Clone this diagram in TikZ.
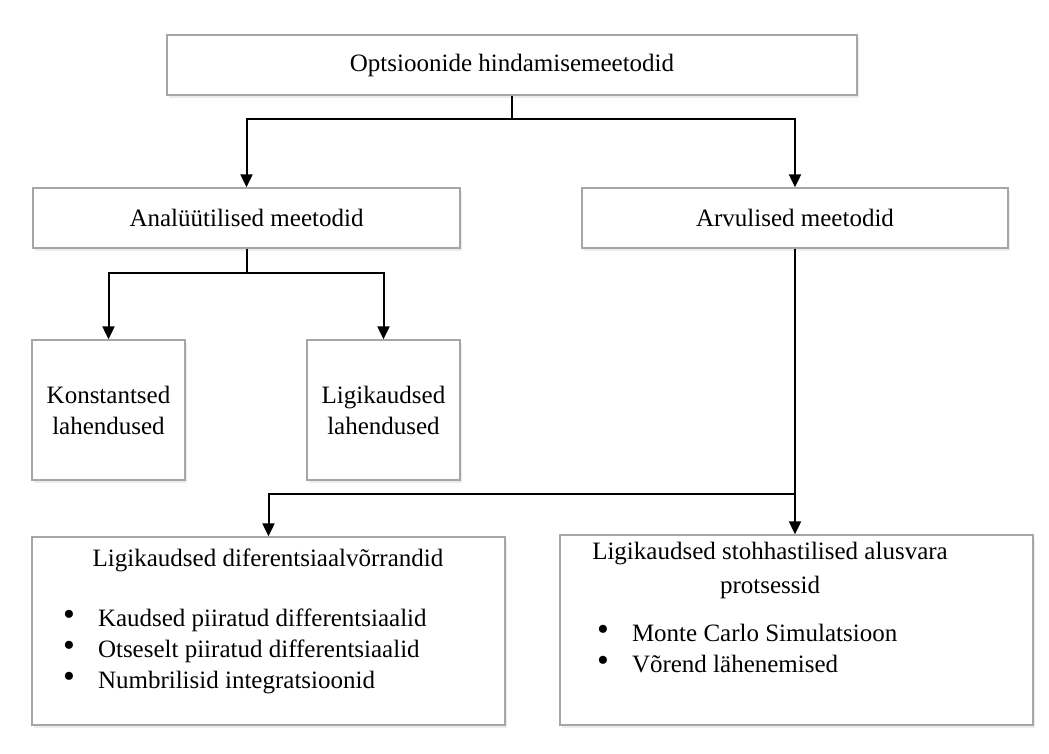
\documentclass[tikz,border=0pt]{standalone}
\usepackage{fontspec}
\setmainfont{Liberation Serif}
\usetikzlibrary{arrows.meta,shadows}
\newcommand\mybul{\smash{\raisebox{0.1ex}{\scalebox{1.35}{\textbullet}}}}
\begin{document}
\begin{tikzpicture}[x=1pt,y=-1pt,
  box/.style={draw=black!35,line width=1.3pt,fill=white,rectangle,inner sep=0pt,
    drop shadow={opacity=0.15,shadow xshift=2pt,shadow yshift=-3pt}},
  txt/.style={font=\fontsize{25}{31}\selectfont,inner sep=0pt,align=center},
  conn/.style={draw=black,line width=2pt},
  arr/.style={conn,-{Triangle[length=13pt,width=12pt]}}]
\useasboundingbox[fill=white] (0,0) rectangle (1049,754);
% boxes
\node[box,minimum width=690,minimum height=60] (top) at (512,65) {};
\node[txt] (topT) at (512,65) {Optsioonide hindamisemeetodid};
\node[box,minimum width=427,minimum height=60] (ana) at (246.5,218) {};
\node[txt] (anaT) at (246.5,218) {Analüütilised meetodid};
\node[box,minimum width=426,minimum height=60] (arv) at (795,218) {};
\node[txt] (arvT) at (795,218) {Arvulised meetodid};
\node[box,minimum width=153,minimum height=140] (kon) at (108.5,410) {};
\node[txt] (konT) at (108.5,410) {Konstantsed\\lahendused};
\node[box,minimum width=153,minimum height=140] (lig) at (383.5,410) {};
\node[txt] (ligT) at (383.5,410) {Ligikaudsed\\lahendused};
\node[box,minimum width=473,minimum height=188] (dif) at (268.5,631) {};
\node[txt] (difT) at (268,560) {Ligikaudsed diferentsiaalvõrrandid};
\node[txt,anchor=west,align=left] (difL) at (63,651) {%
  \begin{tabular}{@{}l@{\hspace{23pt}}l@{}}
  \mybul & Kaudsed piiratud differentsiaalid\\
  \mybul & Otseselt piiratud differentsiaalid\\
  \mybul & Numbrilisid integratsioonid
  \end{tabular}};
\node[box,minimum width=473,minimum height=190] (sto) at (796.5,630) {};
\node[txt] (stoT) at (770,570) {Ligikaudsed stohhastilised alusvara\\[3pt]protsessid};
\node[txt,anchor=west,align=left] (stoL) at (597,651) {%
  \begin{tabular}{@{}l@{\hspace{23pt}}l@{}}
  \mybul & Monte Carlo Simulatsioon\\
  \mybul & Võrend lähenemised
  \end{tabular}};
% connectors
\draw[arr] (top.south) -- ++(0,23) -| (ana.north);
\draw[arr] (top.south) -- ++(0,23) -| (arv.north);
\draw[arr] (ana.south) -- ++(0,24) -| (kon.north);
\draw[arr] (ana.south) -- ++(0,24) -| (lig.north);
\draw[arr] (arv.south) -- ++(0,245) -| (dif.north);
\draw[arr] (arv.south) -- (arv.south |- sto.north);
\end{tikzpicture}
\end{document}
